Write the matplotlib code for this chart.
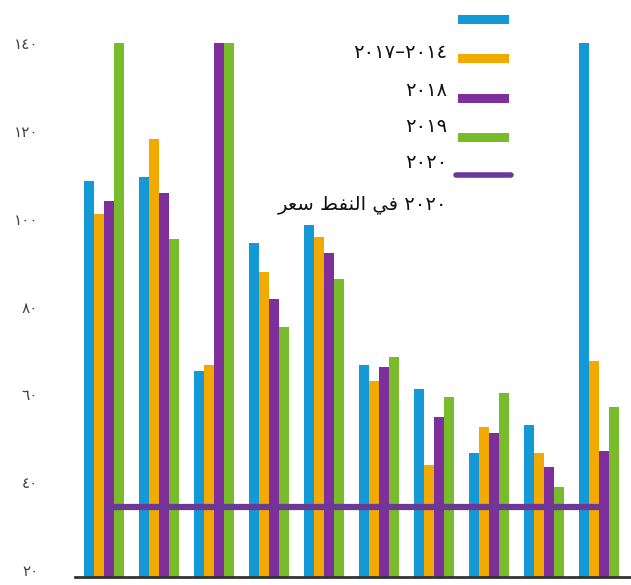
import matplotlib
matplotlib.use("Agg")
import matplotlib.pyplot as plt
from matplotlib.patches import Rectangle
from matplotlib.lines import Line2D
import numpy as np

# Series labels (visual order), colours and values per group
series_labels = ["", "٢٠١٧–٢٠١٤", "٢٠١٨", "٢٠١٩", "٢٠٢٠"]
# "سعر النفط في ٢٠٢٠" written with Arabic presentation forms in display order
oil_label = "\uFEAE\uFECC\uFEB3 \uFEC2\uFED4\uFEE8\uFEDF\uFE8D \uFEF2\uFED3 ٢٠٢٠"

blue = [108.6, 109.5, 65.4, 94.6, 98.7, 66.7, 61.3, 46.7, 53.1, 160.0]
orange = [101.0, 118.2, 66.7, 87.8, 95.9, 63.1, 44.0, 52.6, 46.7, 67.6]
purple = [104.1, 106.0, 160.0, 81.8, 92.3, 66.3, 54.9, 51.3, 43.5, 47.1]
green = [160.0, 95.4, 160.0, 75.4, 86.3, 68.5, 59.4, 60.3, 39.0, 57.2]
oil_price_2020 = 34.4

colors = ["#1399D6", "#F2A900", "#7E2F9C", "#78BC2B"]
line_color = "#6B3896"

yticks = [20, 40, 60, 80, 100, 120, 140]
ytick_labels = ["٢٠", "٤٠", "٦٠", "٨٠", "١٠٠", "١٢٠", "١٤٠"]

W, H = 631, 585
fig = plt.figure(figsize=(W / 100, H / 100), dpi=100)
ax = fig.add_axes([75 / W, (H - 577) / H, 556 / W, (577 - 43.3) / H])

n = len(blue)
x = np.arange(n)
bw = 0.182
all_series = [blue, orange, purple, green]
for k, (vals, c) in enumerate(zip(all_series, colors)):
    ax.bar(x + (k - 1.5) * bw, vals, width=bw, color=c, linewidth=0)

ax.plot([x[0], x[-1]], [oil_price_2020, oil_price_2020], color=line_color,
        linewidth=4.5, solid_capstyle="butt", zorder=5)

ax.set_xlim(-0.527, 9.58)
ax.set_ylim(18.4, 140)
ax.set_xticks([])
ax.set_yticks(yticks)
ax.set_yticklabels(ytick_labels, family=["DejaVu Sans"], fontsize=11, color="#444444")
ax.tick_params(axis="y", length=0, pad=26.5)
for s in ["top", "right", "left"]:
    ax.spines[s].set_visible(False)
ax.spines["bottom"].set_color("#333333")
ax.spines["bottom"].set_linewidth(2)

# Legend keys drawn in pixel positions on the figure
def px(xp, yp):
    return xp / W, 1 - yp / H

handle_y = [19.5, 58.5, 98, 137]
for c, yc in zip(colors, handle_y):
    x0, y0 = px(458, yc + 4.5)
    fig.add_artist(Rectangle((x0, y0), 51 / W, 9 / H, transform=fig.transFigure,
                             facecolor=c, edgecolor="none"))
lx0, ly = px(456, 175)
lx1, _ = px(511, 175)
fig.add_artist(Line2D([lx0, lx1], [ly, ly], transform=fig.transFigure,
                      color=line_color, linewidth=4, solid_capstyle="round"))

label_y = [None, 52, 91, 127, 162]
for lab, yc in zip(series_labels, label_y):
    if lab:
        fx, fy = px(447, yc)
        fig.text(fx, fy, lab, ha="right", va="center", fontsize=14,
                 family=["DejaVu Sans"], color="#111111")
fx, fy = px(447, 205)
fig.text(fx, fy, oil_label, ha="right", va="center", fontsize=14,
         family=["DejaVu Sans"], color="#111111")

fig.savefig("out.png", dpi=100)
